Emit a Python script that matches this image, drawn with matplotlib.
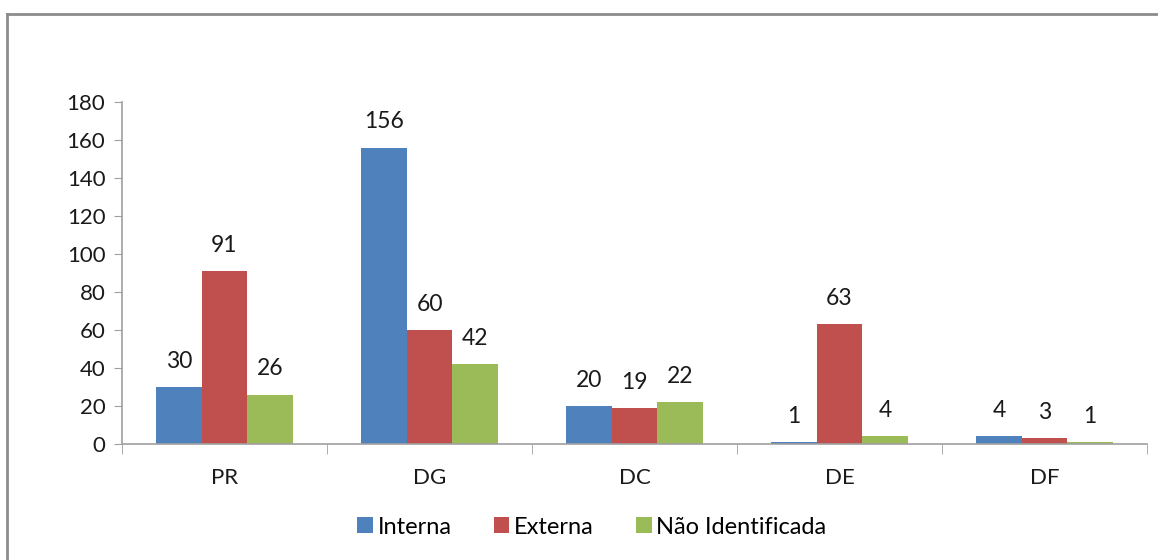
import matplotlib.pyplot as plt
import numpy as np

categories = ['PR', 'DG', 'DC', 'DE', 'DF']
interna = [30, 156, 20, 1, 4]
externa = [91, 60, 19, 63, 3]
nao_ident = [26, 42, 22, 4, 1]

plt.rcParams['font.family'] = ['Lato', 'DejaVu Sans']

fig = plt.figure(figsize=(11.58, 5.6), dpi=100)
ax = fig.add_axes([122 / 1158, 1 - 444 / 560, 1025 / 1158, 342 / 560])

# moldura cinza (só topo e esquerda aparecem)
fig.add_artist(plt.Line2D([7 / 1158, 7 / 1158], [0, 1 - 14 / 560], transform=fig.transFigure,
                          color='#8c8c8c', lw=2))
fig.add_artist(plt.Line2D([7 / 1158, 1], [1 - 14 / 560, 1 - 14 / 560], transform=fig.transFigure,
                          color='#8c8c8c', lw=2))

x = np.arange(len(categories))
w = 0.222
series = [(interna, '#4f81bd', 'Interna'),
          (externa, '#c0504d', 'Externa'),
          (nao_ident, '#9bbb59', 'Não Identificada')]
for i, (vals, col, lab) in enumerate(series):
    bars = ax.bar(x + (i - 1) * w, vals, width=w, color=col, label=lab)
    for b, v in zip(bars, vals):
        ax.text(b.get_x() + b.get_width() / 2, v + 8, str(v), ha='center', va='bottom',
                fontsize=16.5, color='#1a1a1a')

ax.set_xlim(-0.5, len(categories) - 0.5)
ax.set_ylim(0, 180)
ax.set_yticks(range(0, 181, 20))
ax.tick_params(axis='y', labelsize=16, length=6, color='#a0a0a0', pad=6, labelcolor='#1a1a1a')
ax.set_xticks(x)
ax.set_xticklabels(categories)
ax.set_xticks(np.arange(-0.5, len(categories)), minor=True)
ax.tick_params(axis='x', which='major', length=0, labelsize=16, pad=17, labelcolor='#1a1a1a')
ax.tick_params(axis='x', which='minor', length=7, color='#a0a0a0')

for s in ['top', 'right']:
    ax.spines[s].set_visible(False)
for s in ['left', 'bottom']:
    ax.spines[s].set_color('#a0a0a0')
    ax.spines[s].set_linewidth(1.2)

fig.legend(loc='center', bbox_to_anchor=(592 / 1158, 1 - 527 / 560), ncol=3, frameon=False,
           fontsize=17, handlelength=0.65, handleheight=0.65, handletextpad=0.2, columnspacing=1.8)

fig.savefig('out.png', dpi=100)
